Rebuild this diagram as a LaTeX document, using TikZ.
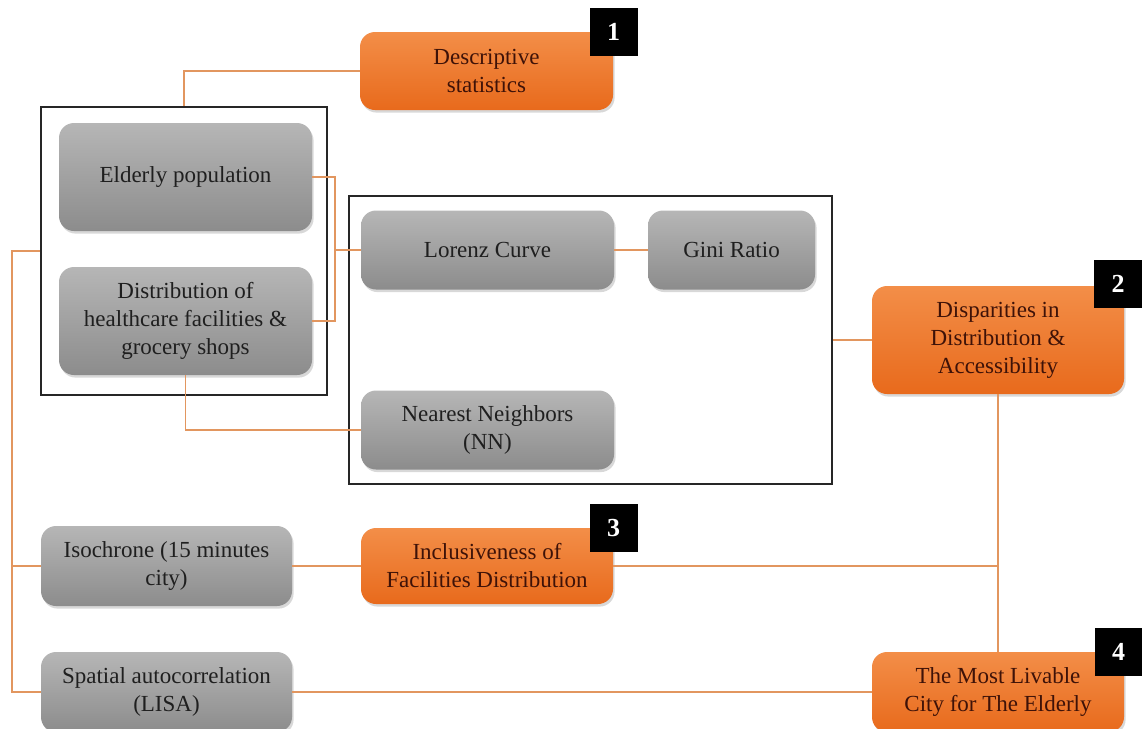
\documentclass[tikz,border=0pt]{standalone}
\usepackage{fontspec}
\setmainfont{Liberation Serif}
\usetikzlibrary{shadows}

\definecolor{linkc}{RGB}{226,150,95}
\definecolor{graytop}{RGB}{182,182,182}
\definecolor{graybot}{RGB}{140,140,140}
\definecolor{orgtop}{RGB}{243,142,72}
\definecolor{orgbot}{RGB}{232,106,28}
\definecolor{orgtext}{RGB}{62,18,8}

\tikzset{
  box/.style={rounded corners=7.5pt, inner sep=0pt, align=center,
    font=\fontsize{11.5}{14}\selectfont,
    drop shadow={opacity=0.3, shadow xshift=0.8pt, shadow yshift=-1.3pt}},
  graybox/.style={box, top color=graytop, bottom color=graybot, text=black!88},
  orangebox/.style={box, top color=orgtop, bottom color=orgbot, text=orgtext},
  groupbox/.style={draw=black!85, line width=0.8pt, inner sep=0pt},
  tagbox/.style={fill=black, text=white, inner sep=0pt,
    font=\fontsize{13}{13}\selectfont\bfseries,
    minimum width=24pt, minimum height=24pt},
  link/.style={draw=linkc, line width=0.8pt},
}

\begin{document}
\begin{tikzpicture}[x=0.5pt, y=-0.5pt]
  \useasboundingbox (0,0) rectangle (1142,729);
  \clip (0,0) rectangle (1142,729);
  \fill[white] (0,0) rectangle (1142,729);

  % grouping frames
  \node[groupbox, minimum width=143pt, minimum height=144pt] (grpA) at (184,251) {};
  \node[groupbox, minimum width=241.5pt, minimum height=144pt] (grpB) at (590.5,340) {};

  % input data
  \node[graybox, minimum width=126.5pt, minimum height=54pt] (elderly) at (185.5,177) {Elderly population};
  \node[graybox, minimum width=126.5pt, minimum height=54pt] (dist) at (185.5,321)
    {Distribution of\\healthcare facilities \&\\grocery shops};

  % methods
  \node[graybox, minimum width=126.5pt, minimum height=39.5pt] (lorenz) at (487.5,250) {Lorenz Curve};
  \node[graybox, minimum width=83.5pt, minimum height=39.5pt] (gini) at (731.5,250) {Gini Ratio};
  \node[graybox, minimum width=126.5pt, minimum height=39.5pt] (nn) at (487.5,430) {Nearest Neighbors\\(NN)};
  \node[graybox, minimum width=125.5pt, minimum height=40pt] (iso) at (166.5,566) {Isochrone (15 minutes\\city)};
  \node[graybox, minimum width=125.5pt, minimum height=40pt] (spatial) at (166.5,692) {Spatial autocorrelation\\(LISA)};

  % outcomes
  \node[orangebox, minimum width=126.5pt, minimum height=39pt] (desc) at (486.5,71) {Descriptive\\statistics};
  \node[orangebox, minimum width=126pt, minimum height=54pt] (disp) at (998,340)
    {Disparities in\\Distribution \&\\Accessibility};
  \node[orangebox, minimum width=126pt, minimum height=38pt] (incl) at (487,566)
    {Inclusiveness of\\Facilities Distribution};
  \node[orangebox, minimum width=126pt, minimum height=40pt] (livable) at (998,692)
    {The Most Livable\\City for The Elderly};

  % numbered tags
  \node[tagbox] (tag1) at (613.5,32) {1};
  \node[tagbox] (tag2) at (1118,284) {2};
  \node[tagbox] (tag3) at (613.5,528) {3};
  \node[tagbox] (tag4) at (1118.5,652) {4};

  % connectors
  \coordinate (jA) at (335,177);
  \coordinate (jB) at (335,321);
  \coordinate (jL) at (335,250);
  \coordinate (rail) at (12,251);
  \coordinate (railIso) at (12,566);
  \coordinate (railBot) at (12,692);
  \coordinate (jR) at (998,566);

  \draw[link] (desc.west) -| (grpA.north);
  \draw[link] (elderly.east) -- (jA) -- (jB) -- (dist.east);
  \draw[link] (jL) -- (lorenz.west);
  \draw[link] (lorenz.east) -- (gini.west);
  \draw[link] (dist.south) |- (nn.west);
  \draw[link] (grpB.east) -- (disp.west);
  \draw[link] (disp.south) -- (livable.north);
  \draw[link] (incl.east) -- (jR);
  \draw[link] (iso.east) -- (incl.west);
  \draw[link] (grpA.west) -- (rail) -- (railBot) -- (spatial.west);
  \draw[link] (railIso) -- (iso.west);
  \draw[link] (spatial.east) -- (livable.west);
\end{tikzpicture}
\end{document}
